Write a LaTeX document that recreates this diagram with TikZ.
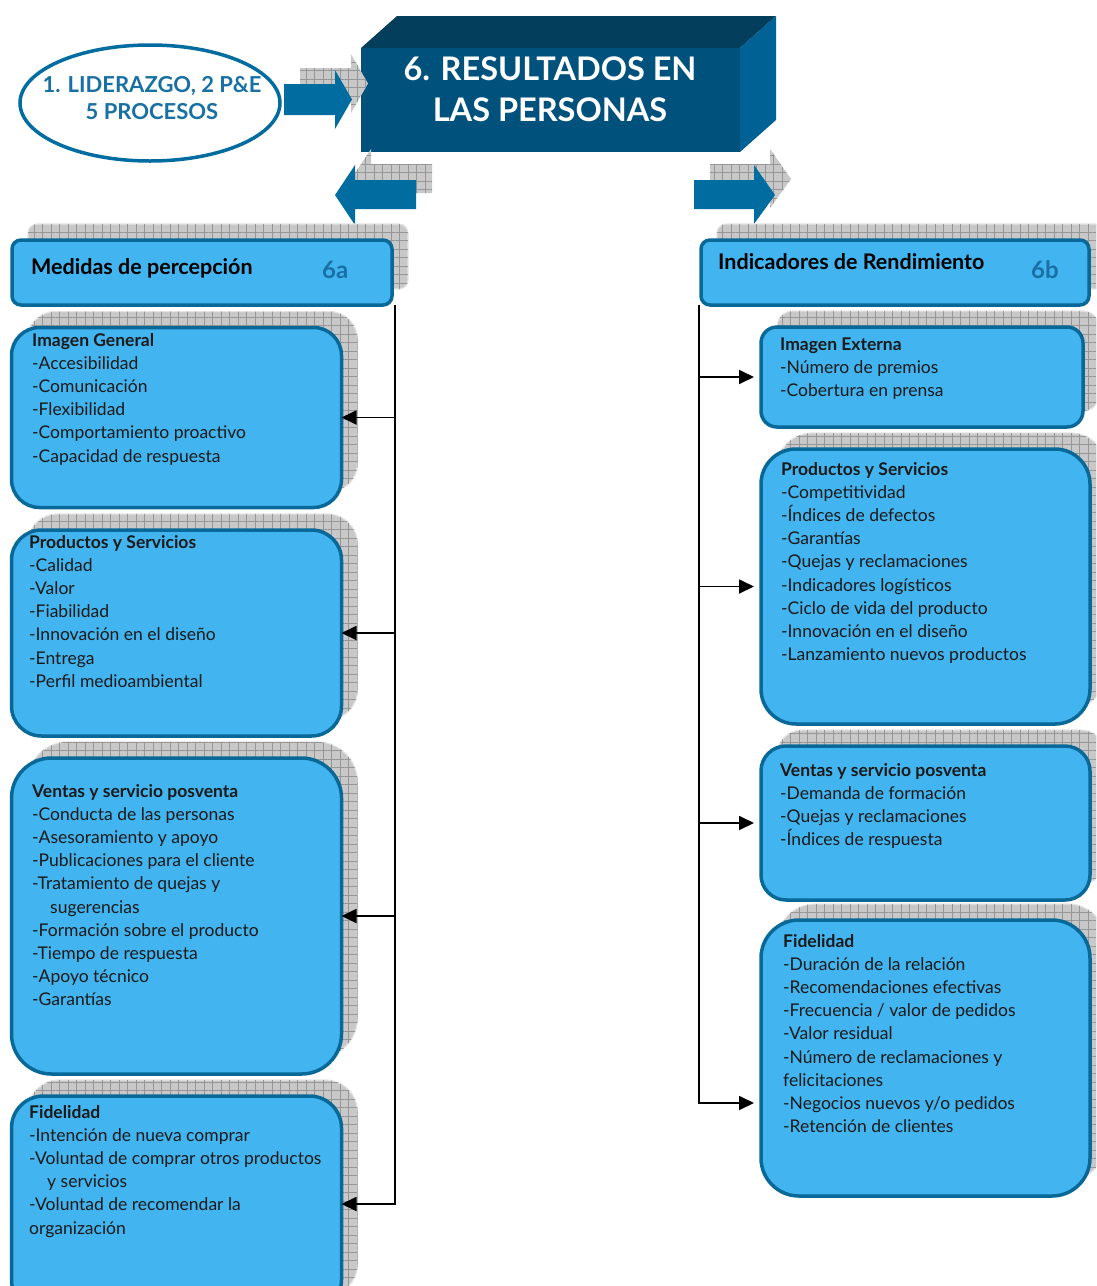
\documentclass[tikz,border=0pt]{standalone}
\usepackage{fontspec}
\setmainfont{Lato}
\usetikzlibrary{arrows.meta,patterns.meta,shapes.geometric}

\definecolor{boxfill}{RGB}{66,181,240}
\definecolor{boxline}{RGB}{8,104,152}
\definecolor{arrowblue}{RGB}{0,108,160}
\definecolor{labelblue}{RGB}{24,112,164}
\definecolor{cubefront}{RGB}{0,82,124}
\definecolor{cubetop}{RGB}{3,62,92}
\definecolor{cubeside}{RGB}{0,98,148}
\definecolor{shadebase}{RGB}{200,200,200}
\definecolor{shadegrid}{RGB}{150,150,150}
\definecolor{shadeedge}{RGB}{228,228,228}
\definecolor{inktext}{RGB}{25,25,25}

% card with its offset grid shadow: name, x1, y1, x2, y2, corner radius
\newcommand\shadedcard[6]{%
  \path[gridshade, rounded corners=#6pt] (#2+16,#3-16) rectangle (#4+16,#5-16);
  \node[card, rounded corners=#6pt, minimum width={(#4)-(#2)}, minimum height={(#5)-(#3)}] (#1) at (#2,#3) {};
}
% line pitch of the card texts
\newcommand\pitch{23.2}

\begin{document}
\begin{tikzpicture}[
  x=1pt, y=-1pt,
  card/.style={draw=boxline, fill=boxfill, line width=3.5pt, inner sep=0pt, outer sep=0pt, anchor=north west},
  gridshade/.style={fill=shadebase, draw=shadeedge, line width=1.2pt,
     postaction={pattern={Hatch[distance=8.5pt,angle=0,line width=0.7pt]}, pattern color=shadegrid}},
  arrowshade/.style={fill=shadebase,
     postaction={pattern={Hatch[distance=8.5pt,angle=0,line width=0.7pt]}, pattern color=shadegrid}},
  bigarrow/.style={fill=arrowblue},
  % multi-line texts are placed by the baseline of their last line
  cardtext/.style={anchor=base west, inner sep=0pt, align=left, text=inktext, font=\fontsize{17.5}{\pitch}\selectfont},
  headtext/.style={anchor=base west, inner sep=0pt, text=black, font=\fontsize{21.5}{24}\selectfont\bfseries},
  tagtext/.style={anchor=base west, inner sep=0pt, text=labelblue, font=\fontsize{24}{28}\selectfont\bfseries},
  link/.style={line width=1.8pt, draw=black},
  linkarrow/.style={link, -{Triangle[length=15pt,width=14pt]}},
]
\useasboundingbox (0,0) rectangle (1096,1286);
\clip (0,0) rectangle (1096,1286);

% ---- source ellipse ----
\node[ellipse, draw=arrowblue, line width=3.5pt, fill=white, minimum width=260, minimum height=116, inner sep=0pt] (src) at (150,103) {};
\node[anchor=base, inner sep=0pt, align=center, text=labelblue, font=\fontsize{22}{27}\selectfont\bfseries] (srctext) at (152,119) {1. LIDERAZGO, 2 P\&E\\5 PROCESOS};

% ---- central block ----
\fill[cubetop] (361,48) -- (397,16) -- (776,16) -- (740,48) -- cycle;
\fill[cubeside] (740,48) -- (776,16) -- (776,120) -- (740,152) -- cycle;
\node[fill=cubefront, minimum width=379, minimum height=104, inner sep=0pt, anchor=north west] (core) at (361,48) {};
\node[anchor=base, inner sep=0pt, align=center, text=white, font=\fontsize{32.5}{41}\selectfont\bfseries] (coretext) at (550,121) {6. RESULTADOS EN\\LAS PERSONAS};

% ---- block arrows with their shadows ----
\path[arrowshade, shift={(16,-16)}] (284,84) -- (335,84) -- (335,70) -- (352,99.5) -- (335,129) -- (335,115) -- (284,115) -- cycle;
\path[bigarrow] (284,84) -- (335,84) -- (335,70) -- (352,99.5) -- (335,129) -- (335,115) -- (284,115) -- cycle;

\path[arrowshade, shift={(16,-16)}] (416,180) -- (355,180) -- (355,165) -- (335,195) -- (355,225) -- (355,209) -- (416,209) -- cycle;
\path[bigarrow] (416,180) -- (355,180) -- (355,165) -- (335,195) -- (355,225) -- (355,209) -- (416,209) -- cycle;

\path[arrowshade, shift={(16,-16)}] (694,180) -- (754,180) -- (754,165) -- (775,195) -- (754,224) -- (754,209) -- (694,209) -- cycle;
\path[bigarrow] (694,180) -- (754,180) -- (754,165) -- (775,195) -- (754,224) -- (754,209) -- (694,209) -- cycle;

% ---- left column: perception measures ----
\shadedcard{hL}{12}{240}{392}{305}{9}
\node[headtext] (hLtext) at (31,274) {Medidas de percepción};
\node[tagtext] (hLtag) at (322,278) {6a};

\shadedcard{L1}{11.5}{327.5}{341.5}{507.5}{28}
\node[cardtext] (L1text) at (32,346+5*\pitch) {\textbf{Imagen General}\\-Accesibilidad\\-Comunicación\\-Flexibilidad\\-Comportamiento proactivo\\-Capacidad de respuesta};

\shadedcard{L2}{11.5}{530}{341.5}{736}{30}
\node[cardtext] (L2text) at (29,548+6*\pitch) {\textbf{Productos y Servicios}\\-Calidad\\-Valor\\-Fiabilidad\\-Innovación en el diseño\\-Entrega\\-Perfil medioambiental};

\shadedcard{L3}{11.5}{758}{341.5}{1074}{40}
\node[cardtext] (L3text) at (32,797+9*\pitch) {\textbf{Ventas y servicio posventa}\\-Conducta de las personas\\-Asesoramiento y apoyo\\-Publicaciones para el cliente\\-Tratamiento de quejas y\\\hspace*{18pt}sugerencias\\-Formación sobre el producto\\-Tiempo de respuesta\\-Apoyo técnico\\-Garantías};

\shadedcard{L4}{11.5}{1096}{341.5}{1312}{32}
\node[cardtext] (L4text) at (29,1118+5*\pitch) {\textbf{Fidelidad}\\-Intención de nueva comprar\\-Voluntad de comprar otros productos\\\hspace*{18pt}y servicios\\-Voluntad de recomendar la\\organización};

% ---- right column: performance indicators ----
\shadedcard{hR}{701}{240}{1089}{305}{9}
\node[headtext] (hRtext) at (718,269) {Indicadores de Rendimiento};
\node[tagtext] (hRtag) at (1031,278) {6b};

\shadedcard{R1}{761}{327}{1083}{427}{16}
\node[cardtext] (R1text) at (780,350+2*\pitch) {\textbf{Imagen Externa}\\-Número de premios\\-Cobertura en prensa};

\shadedcard{R2}{761}{449}{1090}{724}{35}
\node[cardtext] (R2text) at (781,475+8*\pitch) {\textbf{Productos y Servicios}\\-Competitividad\\-Índices de defectos\\-Garantías\\-Quejas y reclamaciones\\-Indicadores logísticos\\-Ciclo de vida del producto\\-Innovación en el diseño\\-Lanzamiento nuevos productos};

\shadedcard{R3}{761}{746}{1090}{900}{25}
\node[cardtext] (R3text) at (780,776+3*\pitch) {\textbf{Ventas y servicio posventa}\\-Demanda de formación\\-Quejas y reclamaciones\\-Índices de respuesta};

\shadedcard{R4}{761}{920}{1090}{1196}{38}
\node[cardtext] (R4text) at (783,947+8*\pitch) {\textbf{Fidelidad}\\-Duración de la relación\\-Recomendaciones efectivas\\-Frecuencia / valor de pedidos\\-Valor residual\\-Número de reclamaciones y\\felicitaciones\\-Negocios nuevos y/o pedidos\\-Retención de clientes};

% ---- connectors ----
\coordinate (trunkL) at (395,305);
\draw[linkarrow] (trunkL) |- (L4.east);
\draw[linkarrow] (trunkL |- L1.east) -- (L1.east);
\draw[linkarrow] (trunkL |- L2.east) -- (L2.east);
\draw[linkarrow] (trunkL |- L3.east) -- (L3.east);

\coordinate (trunkR) at (699,305);
\coordinate (R4in) at ([yshift=-45pt]R4.west);
\draw[linkarrow, shorten >=7pt] (trunkR) |- (R4in);
\draw[linkarrow, shorten >=7pt] (trunkR |- R1.west) -- (R1.west);
\draw[linkarrow, shorten >=7pt] (trunkR |- R2.west) -- (R2.west);
\draw[linkarrow, shorten >=7pt] (trunkR |- R3.west) -- (R3.west);
\end{tikzpicture}
\end{document}
